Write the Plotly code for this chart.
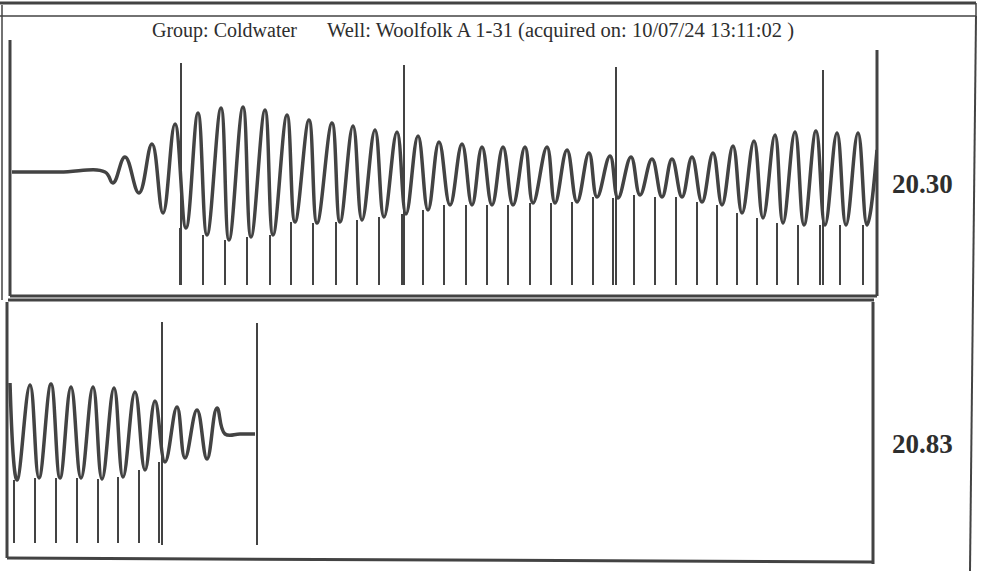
import numpy as np
import plotly.graph_objects as go

W, H = 984, 571

# ---------------- data ----------------
# Upper row: turning points of the acoustic trace (time units, amplitude units)
top_t = [2, 50, 95, 103, 115, 129, 142, 153, 165, 176, 188, 197, 211, 219, 233, 241, 255,
         263, 277, 285, 299, 307, 322, 330, 343, 352, 365, 374, 387, 396, 408, 418, 429,
         440, 452, 462, 472, 482, 493, 503, 515, 523, 537, 545, 557, 567, 579, 587, 600,
         608, 621, 630, 642, 652, 662, 672, 682, 692, 703, 712, 723, 732, 744, 753, 765,
         773, 785, 794, 806, 815, 827, 836, 848, 857, 867]
top_amp = [0, 0, 0, -11, 15, -21, 28, -41, 48, -56, 59, -63, 64, -68, 65, -65, 62,
           -63, 57, -50, 52, -51, 49, -50, 46, -48, 42, -45, 40, -42, 36, -38, 30,
           -33, 28, -33, 25, -33, 25, -33, 25, -31, 25, -31, 22, -30, 19, -25, 16,
           -26, 15, -23, 13, -25, 13, -25, 15, -30, 19, -33, 26, -41, 31, -46, 37,
           -51, 40, -53, 41, -53, 39, -53, 39, -53, 22]
# collar (joint) reflections in the upper row
top_spikes = [170, 193, 215, 237, 260, 281, 303, 326, 347, 369, 392, 413, 434, 456, 477,
              498, 520, 541, 562, 583, 603, 624, 645, 666, 687, 707, 727, 747, 767, 788,
              810, 830, 853]
top_spike_floor = -113
# tall marker lines in the upper row
top_marks = [171, 394, 606, 813]
top_mark_tops = [109, 107, 105, 102]

# Lower row
bot_t = [2, 9, 22, 31, 43, 52, 63, 73, 85, 94, 106, 115, 127, 137, 147, 157, 169, 177,
         189, 199, 209, 217, 232, 247]
bot_amp = [51, -46, 49, -44, 50, -44, 47, -44, 47, -45, 46, -43, 42, -36, 33, -28, 27,
           -24, 24, -25, 26, 0, 0, 0]
bot_spikes = [6, 27, 48, 69, 90, 110, 131, 151]
bot_spike_floor = -109
bot_marks = [154, 249]
bot_mark_tops = [112, 111]
bot_mark_floor = -111

row_labels = ["20.30", "20.83"]
title_group = "Group: Coldwater"
title_well = "Well: Woolfolk A 1-31 (acquired on: 10/07/24 13:11:02 )"

# ---------------- styling ----------------
INK = "#434343"


def px(x):
    return x / W


def py(y):
    return 1 - y / H


def spike_path(xs, t, amp, floor, tops=None):
    xx, yy = [], []
    t = np.asarray(t)
    amp = np.asarray(amp)
    for i, x in enumerate(xs):
        if tops is None:
            # start at the nearest trough of the trace
            troughs = np.where(amp < 0)[0]
            j = troughs[np.argmin(np.abs(t[troughs] - x))]
            top = amp[j]
        else:
            top = tops[i]
        xx += [x, x, None]
        yy += [top, floor, None]
    return xx, yy


fig = go.Figure()

# upper row
fig.add_trace(go.Scatter(x=top_t, y=top_amp, mode="lines",
                         line=dict(color=INK, width=3.5, shape="spline", smoothing=1.2),
                         xaxis="x", yaxis="y", hoverinfo="skip"))
sx, sy = spike_path(top_spikes, top_t, top_amp, top_spike_floor)
fig.add_trace(go.Scatter(x=sx, y=sy, mode="lines", line=dict(color=INK, width=2),
                         xaxis="x", yaxis="y", hoverinfo="skip"))
mx, my = spike_path(top_marks, top_t, top_amp, top_spike_floor, top_mark_tops)
fig.add_trace(go.Scatter(x=mx, y=my, mode="lines", line=dict(color=INK, width=2),
                         xaxis="x", yaxis="y", hoverinfo="skip"))

# lower row
fig.add_trace(go.Scatter(x=bot_t, y=bot_amp, mode="lines",
                         line=dict(color=INK, width=3.5, shape="spline", smoothing=1.2),
                         xaxis="x2", yaxis="y2", hoverinfo="skip"))
sx, sy = spike_path(bot_spikes, bot_t, bot_amp, bot_spike_floor)
fig.add_trace(go.Scatter(x=sx, y=sy, mode="lines", line=dict(color=INK, width=2),
                         xaxis="x2", yaxis="y2", hoverinfo="skip"))
mx, my = spike_path(bot_marks, bot_t, bot_amp, bot_mark_floor, bot_mark_tops)
fig.add_trace(go.Scatter(x=mx, y=my, mode="lines", line=dict(color=INK, width=2),
                         xaxis="x2", yaxis="y2", hoverinfo="skip"))

hidden = dict(showgrid=False, zeroline=False, showticklabels=False, ticks="",
              showline=False, fixedrange=True)

fig.update_layout(
    width=W, height=H,
    margin=dict(l=0, r=0, t=0, b=0),
    paper_bgcolor="white", plot_bgcolor="white",
    showlegend=False,
    xaxis=dict(domain=[px(10), px(877)], range=[0, 867], **hidden),
    yaxis=dict(domain=[py(296), py(40)], range=[-124, 132], **hidden),
    xaxis2=dict(domain=[px(8), px(874)], range=[0, 866], anchor="y2", **hidden),
    yaxis2=dict(domain=[py(560), py(301)], range=[-126, 133], anchor="x2", **hidden),
)

# frames (scanned-sheet borders)
frame = [
    # outer sheet
    (0, 3, 976, 3, 3), (0, 16, 976, 16, 1.5), (976, 3, 976, 16, 1.5),
    (976, 16, 970, 571, 2), (2, 5, 2, 300, 1.5),
    # upper panel
    (10, 40, 10, 296, 3), (10, 296, 877, 296, 3), (877, 50, 877, 296, 3),
    # lower panel
    (8, 300, 874, 300, 3), (7, 302, 7, 558, 3), (7, 558, 873, 562, 3),
    (873, 302, 873, 564, 3),
]
for x0, y0, x1, y1, w in frame:
    fig.add_shape(type="line", xref="paper", yref="paper",
                  x0=px(x0), y0=py(y0), x1=px(x1), y1=py(y1),
                  line=dict(color=INK, width=w))

serif = "Liberation Serif, Times New Roman, serif"
fig.add_annotation(text=title_group, xref="paper", yref="paper", x=px(150), y=py(30),
                   xanchor="left", yanchor="middle", showarrow=False,
                   font=dict(family=serif, size=20, color="#2e2e2e"))
fig.add_annotation(text=title_well, xref="paper", yref="paper", x=px(325), y=py(30),
                   xanchor="left", yanchor="middle", showarrow=False,
                   font=dict(family=serif, size=20.5, color="#2e2e2e"))
for lab, yc in zip(row_labels, [184, 444]):
    fig.add_annotation(text="<b>%s</b>" % lab, xref="paper", yref="paper", x=px(922), y=py(yc),
                       xanchor="center", yanchor="middle", showarrow=False,
                       font=dict(family=serif, size=27, color="#2e2e2e"))

fig.write_html("out.html", config={"displayModeBar": False, "staticPlot": True},
               post_script="document.body.style.margin='0';")
